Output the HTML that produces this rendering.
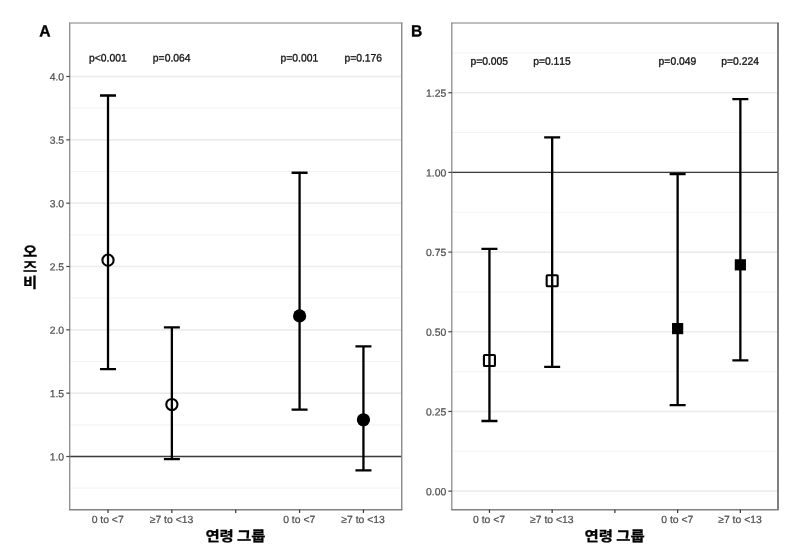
<!DOCTYPE html>
<html lang="ko"><head><meta charset="utf-8"><title>Forest plot</title>
<style>
html,body{margin:0;padding:0;background:#fff;}
body{width:805px;height:557px;overflow:hidden;}
svg{display:block;position:absolute;left:0;top:0;filter:blur(0.4px);}
text{font-family:"Liberation Sans","Noto Sans CJK KR",sans-serif;font-kerning:none;}
.ax{font-size:10.4px;fill:#4d4d4d;stroke:#4d4d4d;stroke-width:0.22px;}
.pv{font-size:10.5px;fill:#111;stroke:#111;stroke-width:0.3px;}
.tt{font-size:14.3px;font-weight:bold;fill:#000;stroke:#000;stroke-width:0.3px;word-spacing:-1px;font-family:"Liberation Sans","Noto Sans CJK KR",sans-serif;}
.lab{font-size:16.3px;font-weight:bold;fill:#000;stroke:#000;stroke-width:0.3px;stroke-linejoin:round;}
</style></head><body>
<svg width="805" height="557" viewBox="0 0 805 557">
<rect width="805" height="557" fill="#fff"/>
<g>
<line x1="69.70" x2="401.75" y1="488.17" y2="488.17" stroke="#f4f4f4" stroke-width="1.1"/>
<line x1="69.70" x2="401.75" y1="424.83" y2="424.83" stroke="#f4f4f4" stroke-width="1.1"/>
<line x1="69.70" x2="401.75" y1="361.50" y2="361.50" stroke="#f4f4f4" stroke-width="1.1"/>
<line x1="69.70" x2="401.75" y1="298.17" y2="298.17" stroke="#f4f4f4" stroke-width="1.1"/>
<line x1="69.70" x2="401.75" y1="234.83" y2="234.83" stroke="#f4f4f4" stroke-width="1.1"/>
<line x1="69.70" x2="401.75" y1="171.50" y2="171.50" stroke="#f4f4f4" stroke-width="1.1"/>
<line x1="69.70" x2="401.75" y1="108.17" y2="108.17" stroke="#f4f4f4" stroke-width="1.1"/>
<line x1="69.70" x2="401.75" y1="456.50" y2="456.50" stroke="#ececec" stroke-width="1.6"/>
<line x1="69.70" x2="401.75" y1="393.17" y2="393.17" stroke="#ececec" stroke-width="1.6"/>
<line x1="69.70" x2="401.75" y1="329.83" y2="329.83" stroke="#ececec" stroke-width="1.6"/>
<line x1="69.70" x2="401.75" y1="266.50" y2="266.50" stroke="#ececec" stroke-width="1.6"/>
<line x1="69.70" x2="401.75" y1="203.17" y2="203.17" stroke="#ececec" stroke-width="1.6"/>
<line x1="69.70" x2="401.75" y1="139.83" y2="139.83" stroke="#ececec" stroke-width="1.6"/>
<line x1="69.70" x2="401.75" y1="76.50" y2="76.50" stroke="#ececec" stroke-width="1.6"/>
<line x1="69.70" x2="401.75" y1="456.50" y2="456.50" stroke="#3c3c3c" stroke-width="1.4"/>
<path d="M100.01 95.50H116.01M100.01 369.10H116.01M108.01 95.50V369.10" stroke="#000" stroke-width="2.3" fill="none"/>
<circle cx="108.01" cy="260.17" r="5.6" fill="none" stroke="#000" stroke-width="2.1"/>
<text class="pv" transform="translate(107.81,61.60) rotate(0.03) scale(0.985,1.03)" text-anchor="middle">p&lt;0.001</text>
<path d="M163.87 327.30H179.87M163.87 459.03H179.87M171.87 327.30V459.03" stroke="#000" stroke-width="2.3" fill="none"/>
<circle cx="171.87" cy="404.57" r="5.6" fill="none" stroke="#000" stroke-width="2.1"/>
<text class="pv" transform="translate(171.67,61.60) rotate(0.03) scale(0.985,1.03)" text-anchor="middle">p=0.064</text>
<path d="M291.58 172.77H307.58M291.58 409.63H307.58M299.58 172.77V409.63" stroke="#000" stroke-width="2.3" fill="none"/>
<circle cx="299.58" cy="315.90" r="6.6" fill="#000"/>
<text class="pv" transform="translate(299.38,61.60) rotate(0.03) scale(0.985,1.03)" text-anchor="middle">p=0.001</text>
<path d="M355.44 346.30H371.44M355.44 470.43H371.44M363.44 346.30V470.43" stroke="#000" stroke-width="2.3" fill="none"/>
<circle cx="363.44" cy="419.77" r="6.6" fill="#000"/>
<text class="pv" transform="translate(363.24,61.60) rotate(0.03) scale(0.985,1.03)" text-anchor="middle">p=0.176</text>
<line x1="69.10" x2="402.45" y1="22.95" y2="22.95" stroke="#a8a8a8" stroke-width="1.5"/>
<line x1="69.70" x2="69.70" y1="22.70" y2="509.70" stroke="#8c8c8c" stroke-width="1.3"/>
<line x1="401.75" x2="401.75" y1="22.70" y2="509.70" stroke="#808080" stroke-width="1.3"/>
<line x1="69.10" x2="402.45" y1="509.70" y2="509.70" stroke="#808080" stroke-width="1.4"/>
<line x1="66.30" x2="69.70" y1="456.50" y2="456.50" stroke="#444" stroke-width="1.2"/>
<text class="ax" transform="translate(64.10,460.50) rotate(0.03)" text-anchor="end">1.0</text>
<line x1="66.30" x2="69.70" y1="393.17" y2="393.17" stroke="#444" stroke-width="1.2"/>
<text class="ax" transform="translate(64.10,397.17) rotate(0.03)" text-anchor="end">1.5</text>
<line x1="66.30" x2="69.70" y1="329.83" y2="329.83" stroke="#444" stroke-width="1.2"/>
<text class="ax" transform="translate(64.10,333.83) rotate(0.03)" text-anchor="end">2.0</text>
<line x1="66.30" x2="69.70" y1="266.50" y2="266.50" stroke="#444" stroke-width="1.2"/>
<text class="ax" transform="translate(64.10,270.50) rotate(0.03)" text-anchor="end">2.5</text>
<line x1="66.30" x2="69.70" y1="203.17" y2="203.17" stroke="#444" stroke-width="1.2"/>
<text class="ax" transform="translate(64.10,207.17) rotate(0.03)" text-anchor="end">3.0</text>
<line x1="66.30" x2="69.70" y1="139.83" y2="139.83" stroke="#444" stroke-width="1.2"/>
<text class="ax" transform="translate(64.10,143.83) rotate(0.03)" text-anchor="end">3.5</text>
<line x1="66.30" x2="69.70" y1="76.50" y2="76.50" stroke="#444" stroke-width="1.2"/>
<text class="ax" transform="translate(64.10,80.50) rotate(0.03)" text-anchor="end">4.0</text>
<line x1="108.01" x2="108.01" y1="509.70" y2="512.90" stroke="#333" stroke-width="1.2"/>
<text class="ax" transform="translate(107.66,523.00) rotate(0.03)" text-anchor="middle">0 to &lt;7</text>
<line x1="171.87" x2="171.87" y1="509.70" y2="512.90" stroke="#333" stroke-width="1.2"/>
<text class="ax" transform="translate(171.52,523.00) rotate(0.03)" text-anchor="middle">≥7 to &lt;13</text>
<line x1="235.73" x2="235.73" y1="509.70" y2="512.90" stroke="#333" stroke-width="1.2"/>
<line x1="299.58" x2="299.58" y1="509.70" y2="512.90" stroke="#333" stroke-width="1.2"/>
<text class="ax" transform="translate(299.23,523.00) rotate(0.03)" text-anchor="middle">0 to &lt;7</text>
<line x1="363.44" x2="363.44" y1="509.70" y2="512.90" stroke="#333" stroke-width="1.2"/>
<text class="ax" transform="translate(363.09,523.00) rotate(0.03)" text-anchor="middle">≥7 to &lt;13</text>
<text class="tt" transform="translate(235.42,541.30) rotate(0.03) scale(1.08,1)" text-anchor="middle">연령 그룹</text>
<text class="lab" transform="translate(39.20,36.4) rotate(0.03) scale(0.96,1)">A</text>
</g>
<g>
<line x1="451.80" x2="778.00" y1="451.31" y2="451.31" stroke="#f4f4f4" stroke-width="1.1"/>
<line x1="451.80" x2="778.00" y1="371.62" y2="371.62" stroke="#f4f4f4" stroke-width="1.1"/>
<line x1="451.80" x2="778.00" y1="291.93" y2="291.93" stroke="#f4f4f4" stroke-width="1.1"/>
<line x1="451.80" x2="778.00" y1="212.24" y2="212.24" stroke="#f4f4f4" stroke-width="1.1"/>
<line x1="451.80" x2="778.00" y1="132.56" y2="132.56" stroke="#f4f4f4" stroke-width="1.1"/>
<line x1="451.80" x2="778.00" y1="52.87" y2="52.87" stroke="#f4f4f4" stroke-width="1.1"/>
<line x1="451.80" x2="778.00" y1="491.15" y2="491.15" stroke="#ececec" stroke-width="1.6"/>
<line x1="451.80" x2="778.00" y1="411.46" y2="411.46" stroke="#ececec" stroke-width="1.6"/>
<line x1="451.80" x2="778.00" y1="331.77" y2="331.77" stroke="#ececec" stroke-width="1.6"/>
<line x1="451.80" x2="778.00" y1="252.09" y2="252.09" stroke="#ececec" stroke-width="1.6"/>
<line x1="451.80" x2="778.00" y1="172.40" y2="172.40" stroke="#ececec" stroke-width="1.6"/>
<line x1="451.80" x2="778.00" y1="92.71" y2="92.71" stroke="#ececec" stroke-width="1.6"/>
<line x1="451.80" x2="778.00" y1="172.40" y2="172.40" stroke="#3c3c3c" stroke-width="1.4"/>
<path d="M481.44 248.90H497.44M481.44 421.02H497.44M489.44 248.90V421.02" stroke="#000" stroke-width="2.3" fill="none"/>
<rect x="483.94" y="354.96" width="11" height="11" rx="0.8" fill="none" stroke="#000" stroke-width="2.1"/>
<text class="pv" transform="translate(489.24,64.80) rotate(0.03) scale(0.985,1.03)" text-anchor="middle">p=0.005</text>
<path d="M544.17 137.34H560.17M544.17 366.84H560.17M552.17 137.34V366.84" stroke="#000" stroke-width="2.3" fill="none"/>
<rect x="546.67" y="275.27" width="11" height="11" rx="0.8" fill="none" stroke="#000" stroke-width="2.1"/>
<text class="pv" transform="translate(551.97,64.80) rotate(0.03) scale(0.985,1.03)" text-anchor="middle">p=0.115</text>
<path d="M669.63 173.99H685.63M669.63 405.09H685.63M677.63 173.99V405.09" stroke="#000" stroke-width="2.3" fill="none"/>
<rect x="672.03" y="322.99" width="11.2" height="11.2" fill="#000"/>
<text class="pv" transform="translate(677.43,64.80) rotate(0.03) scale(0.985,1.03)" text-anchor="middle">p=0.049</text>
<path d="M732.36 99.09H748.36M732.36 360.46H748.36M740.36 99.09V360.46" stroke="#000" stroke-width="2.3" fill="none"/>
<rect x="734.76" y="259.24" width="11.2" height="11.2" fill="#000"/>
<text class="pv" transform="translate(740.16,64.80) rotate(0.03) scale(0.985,1.03)" text-anchor="middle">p=0.224</text>
<line x1="451.20" x2="778.70" y1="22.95" y2="22.95" stroke="#a8a8a8" stroke-width="1.5"/>
<line x1="451.80" x2="451.80" y1="22.70" y2="509.70" stroke="#8c8c8c" stroke-width="1.3"/>
<line x1="778.00" x2="778.00" y1="22.70" y2="509.70" stroke="#606060" stroke-width="1.6"/>
<line x1="451.20" x2="778.70" y1="509.70" y2="509.70" stroke="#808080" stroke-width="1.4"/>
<line x1="448.40" x2="451.80" y1="491.15" y2="491.15" stroke="#444" stroke-width="1.2"/>
<text class="ax" transform="translate(446.20,495.15) rotate(0.03)" text-anchor="end">0.00</text>
<line x1="448.40" x2="451.80" y1="411.46" y2="411.46" stroke="#444" stroke-width="1.2"/>
<text class="ax" transform="translate(446.20,415.46) rotate(0.03)" text-anchor="end">0.25</text>
<line x1="448.40" x2="451.80" y1="331.77" y2="331.77" stroke="#444" stroke-width="1.2"/>
<text class="ax" transform="translate(446.20,335.77) rotate(0.03)" text-anchor="end">0.50</text>
<line x1="448.40" x2="451.80" y1="252.09" y2="252.09" stroke="#444" stroke-width="1.2"/>
<text class="ax" transform="translate(446.20,256.09) rotate(0.03)" text-anchor="end">0.75</text>
<line x1="448.40" x2="451.80" y1="172.40" y2="172.40" stroke="#444" stroke-width="1.2"/>
<text class="ax" transform="translate(446.20,176.40) rotate(0.03)" text-anchor="end">1.00</text>
<line x1="448.40" x2="451.80" y1="92.71" y2="92.71" stroke="#444" stroke-width="1.2"/>
<text class="ax" transform="translate(446.20,96.71) rotate(0.03)" text-anchor="end">1.25</text>
<line x1="489.44" x2="489.44" y1="509.70" y2="512.90" stroke="#333" stroke-width="1.2"/>
<text class="ax" transform="translate(489.09,523.00) rotate(0.03)" text-anchor="middle">0 to &lt;7</text>
<line x1="552.17" x2="552.17" y1="509.70" y2="512.90" stroke="#333" stroke-width="1.2"/>
<text class="ax" transform="translate(551.82,523.00) rotate(0.03)" text-anchor="middle">≥7 to &lt;13</text>
<line x1="614.90" x2="614.90" y1="509.70" y2="512.90" stroke="#333" stroke-width="1.2"/>
<line x1="677.63" x2="677.63" y1="509.70" y2="512.90" stroke="#333" stroke-width="1.2"/>
<text class="ax" transform="translate(677.28,523.00) rotate(0.03)" text-anchor="middle">0 to &lt;7</text>
<line x1="740.36" x2="740.36" y1="509.70" y2="512.90" stroke="#333" stroke-width="1.2"/>
<text class="ax" transform="translate(740.01,523.00) rotate(0.03)" text-anchor="middle">≥7 to &lt;13</text>
<text class="tt" transform="translate(614.60,541.30) rotate(0.03) scale(1.08,1)" text-anchor="middle">연령 그룹</text>
<text class="lab" transform="translate(410.90,36.4) rotate(0.03) scale(0.96,1)">B</text>
</g>
<text class="tt" transform="translate(30,256.80) rotate(0.03) scale(1.08,1)" text-anchor="middle">오</text>
<text class="tt" transform="translate(30,272.10) rotate(0.03) scale(1.08,1)" text-anchor="middle">즈</text>
<text class="tt" transform="translate(30,287.70) rotate(0.03) scale(1.08,1)" text-anchor="middle">비</text>
</svg></body></html>
